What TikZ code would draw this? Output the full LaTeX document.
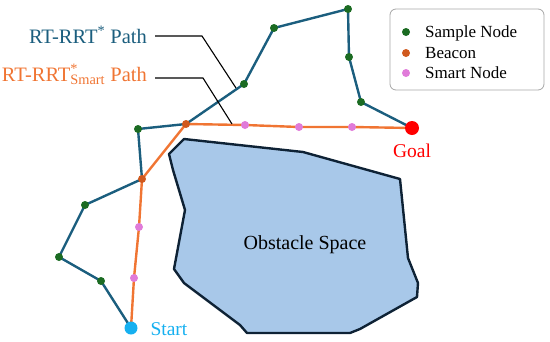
\documentclass[tikz,border=0pt]{standalone}
\usepackage{fontspec}
\setmainfont{Liberation Serif}
\usetikzlibrary{backgrounds}

\definecolor{rrtblue}{HTML}{1B5E7E}
\definecolor{smartorange}{HTML}{F07533}
\definecolor{samplegreen}{HTML}{1B6B22}
\definecolor{beaconbrown}{HTML}{D0591E}
\definecolor{smartpink}{HTML}{E07BD9}
\definecolor{obstfill}{HTML}{A8C8E9}
\definecolor{obstline}{HTML}{0E2235}
\definecolor{startcyan}{HTML}{16B0F0}

\tikzset{
	dot/.style={circle, inner sep=0pt, minimum size=8pt},
	sample/.style={dot, fill=samplegreen},
	beacon/.style={dot, fill=beaconbrown},
	smart/.style={dot, fill=smartpink},
	rrtpath/.style={draw=rrtblue, line width=2.4pt, line join=round},
	smartpath/.style={draw=smartorange, line width=2.4pt, line join=round},
	leader/.style={draw=black, line width=1.1pt},
}

\begin{document}
\begin{tikzpicture}[x=1pt, y=-1pt]
	\useasboundingbox (0,0) rectangle (550,341);
	% Start and goal
	\node[circle, fill=startcyan, inner sep=0pt, minimum size=13pt] (start) at (131,328) {};
	\node[circle, fill=red, inner sep=0pt, minimum size=14pt] (goal) at (412,128) {};
	\node[anchor=base west, text=startcyan, font=\fontsize{19.5}{21}\selectfont] (startlbl) at (147,335) {Start};
	\node[anchor=base, text=red, font=\fontsize{19.5}{21}\selectfont] (goallbl) at (412,157) {Goal};
	% Beacons
	\node[beacon] (b1) at (142,179) {};
	\node[beacon] (b2) at (186,124) {};
	% Sample nodes of RT-RRT*
	\node[sample] (g1) at (101,281) {};
	\node[sample] (g2) at (59,257) {};
	\node[sample] (g3) at (85,205) {};
	\node[sample] (g4) at (138,129) {};
	\node[sample] (g5) at (244,84) {};
	\node[sample] (g6) at (274,28) {};
	\node[sample] (g7) at (348,9) {};
	\node[sample] (g8) at (349,57) {};
	\node[sample] (g9) at (361,102) {};
	% Smart nodes
	\node[smart] (m1) at (134,278) {};
	\node[smart] (m2) at (139,227) {};
	\node[smart] (m3) at (245,125) {};
	\node[smart] (m4) at (299,127) {};
	\node[smart] (m5) at (352,127) {};
	% Obstacle and paths
	\begin{pgfonlayer}{background}
		\draw[fill=obstfill, draw=obstline, line width=2.4pt, line join=round]
			(169,154) -- (184,139) -- (303,152) -- (400,179) -- (408,258) -- (418,283)
			-- (417,297) -- (360,329) -- (350,333) -- (247,333) -- (240,325) -- (184,283)
			-- (174,269) -- (185,210) -- (173,170) -- cycle;
		\draw[rrtpath] (start.center) -- (g1.center) -- (g2.center) -- (g3.center) -- (b1.center)
			-- (g4.center) -- (b2.center) -- (g5.center) -- (g6.center) -- (g7.center)
			-- (g8.center) -- (g9.center) -- (goal.center);
		\draw[smartpath] (start.center) -- (m1.center) -- (m2.center) -- (b1.center) -- (b2.center)
			-- (m3.center) -- (m4.center) -- (m5.center) -- (goal.center);
	\end{pgfonlayer}
	\node[anchor=base, font=\fontsize{20}{22}\selectfont] (obst) at (305,249) {Obstacle Space};
	% Path labels
	\node[anchor=base east, inner sep=0pt, text=rrtblue, font=\fontsize{20.5}{22}\selectfont] (rrtlbl) at (147,43) {RT-RRT\textsuperscript{*} Path};
	\node[anchor=base east, inner sep=0pt, text=smartorange, font=\fontsize{20.5}{22}\selectfont] (smartlbl) at (147,81) {RT-RRT\rlap{\textsuperscript{*}}\textsubscript{Smart} Path};
	\coordinate (rrtbend) at (202,36);
	\coordinate (rrtend) at (236,88);
	\coordinate (smartbend) at (203,78);
	\coordinate (smartend) at (232,124);
	\draw[leader] (155,36) -- (rrtbend) -- (rrtend);
	\draw[leader] (155,78) -- (smartbend) -- (smartend);
	% Legend
	\draw[gray!70, line width=0.8pt, rounded corners=6pt] (390,9) rectangle (544,90);
	\node[sample] (lgs) at (406,32) {};
	\node[beacon] (lgb) at (406,53) {};
	\node[smart] (lgm) at (406,73) {};
	\node[anchor=base west, inner sep=0pt, font=\fontsize{17}{19}\selectfont] (lgstxt) at (425,37) {Sample Node};
	\node[anchor=base west, inner sep=0pt, font=\fontsize{17}{19}\selectfont] (lgbtxt) at (425,58) {Beacon};
	\node[anchor=base west, inner sep=0pt, font=\fontsize{17}{19}\selectfont] (lgmtxt) at (425,78) {Smart Node};
\end{tikzpicture}
\end{document}
